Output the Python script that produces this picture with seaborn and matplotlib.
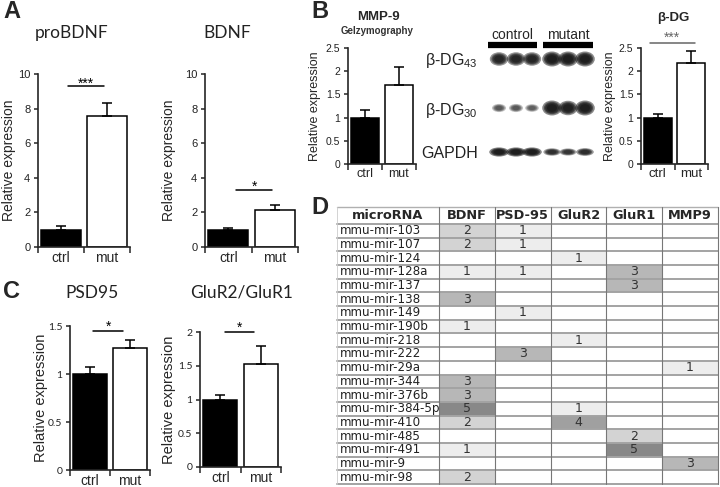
import numpy as np
import pandas as pd
import matplotlib
matplotlib.use("Agg")
import matplotlib.pyplot as plt
import seaborn as sns
from matplotlib.patches import Ellipse
from matplotlib.colors import ListedColormap
from matplotlib.ticker import FuncFormatter

# ---------------- data ----------------
groups = ["ctrl", "mut"]

probdnf_mean = [1.0, 7.6]
probdnf_err = [0.2, 0.75]
bdnf_mean = [1.0, 2.15]
bdnf_err = [0.07, 0.25]
mmp9_mean = [1.0, 1.70]
mmp9_err = [0.16, 0.38]
bdg_mean = [1.0, 2.17]
bdg_err = [0.07, 0.27]
psd95_mean = [1.0, 1.27]
psd95_err = [0.07, 0.08]
glur_mean = [1.0, 1.53]
glur_err = [0.07, 0.26]

# western blot band intensities (3 control lanes, 3 mutant lanes)
blot_rows = ["β-DG$_{\\mathregular{43}}$", "β-DG$_{\\mathregular{30}}$", "GAPDH"]
band_dg43 = [0.85, 0.85, 0.85, 1.0, 1.0, 1.0]
band_dg30 = [0.30, 0.30, 0.25, 1.0, 0.95, 1.0]
band_gapdh = [1.0, 1.0, 1.0, 0.7, 0.65, 0.75]

mirnas = ["mmu-mir-103", "mmu-mir-107", "mmu-mir-124", "mmu-mir-128a", "mmu-mir-137",
          "mmu-mir-138", "mmu-mir-149", "mmu-mir-190b", "mmu-mir-218", "mmu-mir-222",
          "mmu-mir-29a", "mmu-mir-344", "mmu-mir-376b", "mmu-mir-384-5p", "mmu-mir-410",
          "mmu-mir-485", "mmu-mir-491", "mmu-mir-9", "mmu-mir-98"]
targets = ["BDNF", "PSD-95", "GluR2", "GluR1", "MMP9"]
col_bdnf = [2, 2, 0, 1, 0, 3, 0, 1, 0, 0, 0, 3, 3, 5, 2, 0, 1, 0, 2]
col_psd95 = [1, 1, 0, 1, 0, 0, 1, 0, 0, 3, 0, 0, 0, 0, 0, 0, 0, 0, 0]
col_glur2 = [0, 0, 1, 0, 0, 0, 0, 0, 1, 0, 0, 0, 0, 1, 4, 0, 0, 0, 0]
col_glur1 = [0, 0, 0, 3, 3, 0, 0, 0, 0, 0, 0, 0, 0, 0, 0, 2, 5, 0, 0]
col_mmp9 = [0, 0, 0, 0, 0, 0, 0, 0, 0, 0, 1, 0, 0, 0, 0, 0, 0, 3, 0]

# ---------------- style ----------------
sns.set_style("ticks")
plt.rcParams["font.family"] = ["Liberation Sans", "DejaVu Sans"]
plt.rcParams["mathtext.fontset"] = "custom"
plt.rcParams["mathtext.rm"] = "Liberation Sans"
plt.rcParams["axes.linewidth"] = 1.2

W, H = 720, 487
fig = plt.figure(figsize=(W / 100, H / 100), dpi=100)


def box(x0, y0, x1, y1):
    return [x0 / W, 1 - y1 / H, (x1 - x0) / W, (y1 - y0) / H]


canvas = fig.add_axes([0, 0, 1, 1])
canvas.set_xlim(0, W)
canvas.set_ylim(H, 0)
canvas.axis("off")


def bar_panel(px, means, errs, ylim, yticks, label_x, tick_font, tick_size,
              cat_size, ylab_size, sig, sig_color="black"):
    x0, y0, x1, y1 = px
    ax = fig.add_axes(box(x0, y0, x1, y1))
    df = pd.DataFrame({"group": groups, "value": means})
    sns.barplot(data=df, x="group", y="value", hue="group",
                palette=["black", "white"], edgecolor="black", linewidth=1.1,
                width=0.85, legend=False, ax=ax, errorbar=None)
    ax.errorbar([0, 1], means, yerr=[[0, 0], errs], fmt="none", ecolor="black",
                elinewidth=1.1, capsize=3.5, capthick=1.1, clip_on=False)
    ax.set_xlim(-0.5, 1.5)
    ax.set_ylim(*ylim)
    ax.set_yticks(yticks)
    ax.yaxis.set_major_formatter(FuncFormatter(lambda v, p: "%g" % v))
    ax.set_xticks([0, 1])
    ax.set_xticks([-0.5, 0.5, 1.5], minor=True)
    ax.tick_params(axis="x", which="major", length=0, pad=3, labelsize=cat_size)
    ax.tick_params(axis="x", which="minor", length=4, width=1.1, direction="out")
    ax.tick_params(axis="y", length=3, width=1.1, pad=2.5, labelsize=tick_size)
    for lab in ax.get_yticklabels():
        lab.set_fontfamily(tick_font)
        lab.set_color("#222222")
    ax.set_xlabel("")
    ax.set_ylabel("Relative expression", fontsize=ylab_size)
    # label_x is the right edge of the rotated label, in figure pixels
    ax.yaxis.set_label_coords((label_x - x0) / (x1 - x0), 0.5)
    sns.despine(ax=ax)
    ax.patch.set_alpha(0)
    (sx0, sx1, sy, stars, star_dy) = sig
    ax.plot([sx0, sx1], [sy, sy], color=sig_color, lw=1.1, clip_on=False)
    ax.text((sx0 + sx1) / 2, sy + star_dy, stars, ha="center", va="bottom",
            fontsize=10, color=sig_color, clip_on=False)
    return ax


# Panel A
bar_panel((38, 74, 130, 247), probdnf_mean, probdnf_err, (0, 10), range(0, 11, 2),
          16, "Liberation Sans", 8, 10, 10, (0.15, 0.93, 9.3, "***", -0.25))
bar_panel((205, 74, 298, 247), bdnf_mean, bdnf_err, (0, 10), range(0, 11, 2),
          176, "Liberation Sans", 8, 10, 10, (0.17, 0.94, 3.3, "*", -0.25))

# Panel B bars
bar_panel((348, 48, 416, 164), mmp9_mean, mmp9_err, (0, 2.5), np.arange(0, 2.51, 0.5),
          321, "Liberation Sans", 7.5, 9, 9, (0, 0, 0, "", 0))
bar_panel((641, 48, 708, 164), bdg_mean, bdg_err, (0, 2.5), np.arange(0, 2.51, 0.5),
          616, "Liberation Sans", 7.5, 9.5, 9, (-0.23, 1.1, 2.61, "***", -0.05),
          sig_color="#666666")

# Panel C
bar_panel((70, 326, 150, 470), psd95_mean, psd95_err, (0, 1.5), [0, 0.5, 1, 1.5],
          48, "Lato", 7.5, 10, 10.5, (0.08, 0.83, 1.45, "*", -0.03))
bar_panel((200, 332, 281, 467), glur_mean, glur_err, (0, 2), [0, 0.5, 1, 1.5, 2],
          176, "Lato", 7.5, 10, 10.5, (0.12, 0.83, 2.0, "*", -0.04))

# titles & panel letters
for x, y, t in [(12, 12, "A"), (320, 12, "B"), (11, 292, "C"), (320, 207, "D")]:
    canvas.text(x, y, t, fontsize=17, fontweight="bold", ha="center", va="center")
for x, y, t in [(72, 33, "proBDNF"), (227, 33, "BDNF"), (92, 293, "PSD95"),
                (242, 293, "GluR2/GluR1")]:
    canvas.text(x, y, t, fontsize=12.5, fontfamily="Lato", ha="center", va="center",
                color="#222222")
canvas.text(378, 17, "MMP-9", fontsize=9.5, fontweight="bold", ha="center", va="center")
canvas.text(377, 31, "Gelzymography", fontsize=7, fontweight="bold", ha="center",
            va="center", color="#333333")
canvas.text(673, 18, "β-DG", fontsize=9.5, fontweight="bold", ha="center", va="center")

# ---------------- western blot ----------------
lane_x = [499, 516, 532, 552, 568, 585]
row_y = [59, 108, 152]
row_h = [13, 13, 8]
bands = [band_dg43, band_dg30, band_gapdh]
for yy, hh, vals in zip(row_y, row_h, bands):
    for lx, v in zip(lane_x, vals):
        w = 17 * (0.6 + 0.4 * v)
        h = hh * (0.35 + 0.65 * v)
        a = 0.15 + 0.35 * v
        for s in [1.15, 0.95, 0.8, 0.6]:
            canvas.add_patch(Ellipse((lx, yy), w * s, h * s, facecolor="#111111",
                                     edgecolor="none", alpha=a))
for yy, lab in zip(row_y, blot_rows):
    canvas.text(478, yy + 2, lab, fontsize=11.5, ha="right", va="center", color="#222222")
canvas.text(512, 35, "control", fontsize=10, ha="center", va="center")
canvas.text(568, 35, "mutant", fontsize=10, ha="center", va="center")
canvas.plot([488, 537], [45, 45], color="black", lw=4.5, solid_capstyle="butt")
canvas.plot([543, 593], [45, 45], color="black", lw=4.5, solid_capstyle="butt")

# ---------------- table (panel D) ----------------
mat = np.array([col_bdnf, col_psd95, col_glur2, col_glur1, col_mmp9]).T
annot = np.where(mat > 0, mat.astype(str), "")
cmap = ListedColormap(["#ffffff", "#ededed", "#d3d3d3", "#b7b7b7", "#a0a0a0", "#888888"])
name_w = 102 / 55.8
head_h = 17 / 13.7
tx = fig.add_axes(box(337, 207, 718, 484))
sns.heatmap(pd.DataFrame(mat, index=mirnas, columns=targets), ax=tx, cmap=cmap,
            vmin=-0.5, vmax=5.5, cbar=False, annot=annot, fmt="",
            annot_kws={"fontsize": 9, "color": "#333333", "fontfamily": "DejaVu Sans"},
            xticklabels=False, yticklabels=False, linewidths=0)
tx.set_xlim(-name_w, 5)
tx.set_ylim(19, -head_h)
tx.axis("off")
for i in range(20):
    tx.plot([-name_w, 5], [i, i], color="#a3a3a3", lw=1.4, clip_on=False)
tx.plot([-name_w, 5], [-head_h, -head_h], color="#b0b0b0", lw=1.0, clip_on=False)
for j in range(6):
    tx.plot([j, j], [-head_h, 19], color="#777777", lw=0.8, clip_on=False)
tx.plot([-name_w, -name_w], [-head_h, 19], color="#cccccc", lw=0.6, clip_on=False)
tx.text(-name_w / 2, -head_h / 2, "microRNA", ha="center", va="center", fontsize=9.3,
        fontweight="bold", fontfamily="DejaVu Sans")
for j, t in enumerate(targets):
    tx.text(j + 0.5, -head_h / 2, t, ha="center", va="center", fontsize=9.3,
            fontweight="bold", fontfamily="DejaVu Sans")
for i, m in enumerate(mirnas):
    tx.text(-name_w + 0.05, i + 0.5, m, ha="left", va="center", fontsize=8.6,
            fontfamily="DejaVu Sans", color="#222222")

fig.savefig("out.png", dpi=100)
